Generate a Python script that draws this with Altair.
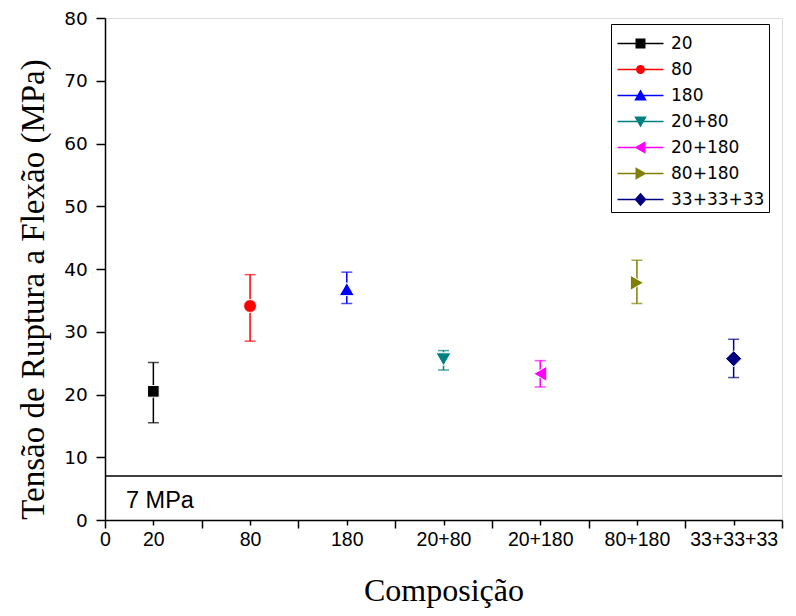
import json
import altair as alt
import pandas as pd

# ---- data ----
COMPOSICOES = ["20", "80", "180", "20+80", "20+180", "80+180", "33+33+33"]
X_POS = [0.5, 1.5, 2.5, 3.5, 4.5, 5.5, 6.5]
MEDIA = [20.5, 34.1, 36.8, 25.6, 23.3, 37.8, 25.7]
ERR_INF = [15.5, 28.5, 34.5, 23.9, 21.2, 34.5, 22.7]
ERR_SUP = [25.1, 39.1, 39.5, 27.0, 25.4, 41.4, 28.8]
LIMITE = [7]
LIMITE_TXT = ["7 MPa"]
X_TICKS = [i * 0.5 for i in range(15)]
Y_TICKS = list(range(0, 85, 5))

# ---- styles ----
COLORS = ["#000000", "#FF0000", "#0000FF", "#008080", "#FF00FF", "#808000", "#000080"]
MARKERS = ["square", "circle", "triangle-up", "triangle-down",
           "triangle-left", "triangle-right", "diamond"]
MARKER_SIZES = [135, 165, 230, 230, 230, 230, 260]
LINE = "M-4.6,-0.17H4.6V0.17H-4.6Z"
LEG_MARKS = [
    "M-1,-1H1V1H-1Z",
    "M-0.9,0A0.9,0.9,0,1,1,0.9,0A0.9,0.9,0,1,1,-0.9,0Z",
    "M0,-1.2L1.25,1H-1.25Z",
    "M0,1.2L-1.25,-1H1.25Z",
    "M-1.2,0L1,-1.25V1.25Z",
    "M1.2,0L-1,1.25V-1.25Z",
    "M0,-1.35L1.2,0L0,1.35L-1.2,0Z",
]
LEG_PATHS = [LINE + m for m in LEG_MARKS]

df = pd.DataFrame({
    "comp": COMPOSICOES,
    "x": X_POS,
    "media": MEDIA,
    "lo": ERR_INF,
    "hi": ERR_SUP,
})
df_lim = pd.DataFrame({"lim": LIMITE, "txt": LIMITE_TXT, "x0": [0]})

x_label_expr = (
    "datum.value === 0 ? '0' : (datum.value % 1 === 0.5 ? "
    + json.dumps(COMPOSICOES).replace('"', "'")
    + "[floor(datum.value)] : '')"
)

x_axis = alt.Axis(
    values=X_TICKS,
    tickSize={"condition": {"test": "datum.value % 1 === 0", "value": 8}, "value": 5},
    labelPadding={"condition": {"test": "datum.value % 1 === 0", "value": 2.9}, "value": 5.9},
    labelExpr=x_label_expr,
    labelOverlap=False,
    labelFlush=False,
    grid=False,
    labelFont="Liberation Sans",
    labelFontSize=19.5,
    labelColor="black",
    domainColor="black",
    domainWidth=1.5,
    tickColor="black",
    tickWidth=1.5,
    title="Composição",
    titleFont="Liberation Serif",
    titleFontSize=32,
    titleFontWeight="normal",
    titleColor="black",
    titleY=80,
    titleBaseline="alphabetic",
)

y_axis = alt.Axis(
    values=Y_TICKS,
    tickSize={"condition": {"test": "datum.value % 10 === 0", "value": 9}, "value": 5},
    labelExpr="datum.value % 10 === 0 ? datum.label : ''",
    labelPadding=8.7,
    labelOverlap=False,
    labelFlush=False,
    grid=False,
    labelFont="DejaVu Sans",
    labelFontSize=18.5,
    labelColor="black",
    domainColor="black",
    domainWidth=1.5,
    tickColor="black",
    tickWidth=1.5,
    title="Tensão de Ruptura a Flexão (MPa)",
    titleFont="Liberation Serif",
    titleFontSize=33,
    titleFontWeight="normal",
    titleColor="black",
    titleX=-62,
    titleY=271,
    titleBaseline="alphabetic",
)

xs = alt.Scale(domain=[0, 7], nice=False, zero=False)
ys = alt.Scale(domain=[0, 80], nice=False)
color_scale = alt.Scale(domain=COMPOSICOES, range=COLORS)

legend = alt.Legend(
    title=" ",
    titleFontSize=2,
    titlePadding=5,
    orient="none",
    legendX=506,
    legendY=6,
    symbolSize=100,
    symbolStrokeWidth=0,
    symbolOpacity=1,
    symbolOffset=17,
    labelOffset=22,
    labelFont="DejaVu Sans",
    labelFontSize=17,
    labelColor="black",
    padding=4,
    rowPadding=8,
    strokeColor="black",
    fillColor="white",
)

base = alt.Chart(df)
lim_base = alt.Chart(df_lim)

X = alt.X("x:Q", scale=xs, axis=x_axis)
C_nolegend = alt.Color("comp:N", scale=color_scale, legend=None)

# invisible layer that carries the legend (line + marker symbols)
legend_layer = base.mark_point(filled=True, opacity=0).encode(
    x=X,
    y=alt.Y("media:Q", scale=ys, axis=y_axis),
    color=alt.Color("comp:N", scale=color_scale, legend=legend),
    shape=alt.Shape("comp:N", scale=alt.Scale(domain=COMPOSICOES, range=LEG_PATHS), legend=legend),
)

rule7 = lim_base.mark_rule(color="black", strokeWidth=1.5).encode(
    y=alt.Y("lim:Q", scale=ys)
)
txt7 = lim_base.mark_text(
    align="left", baseline="alphabetic", dx=21, dy=32,
    font="Liberation Sans", fontSize=23.5, color="black"
).encode(
    x=alt.X("x0:Q", scale=xs),
    y=alt.Y("lim:Q", scale=ys),
    text="txt:N",
)

bars = base.mark_rule(strokeWidth=1.5).encode(
    x=X,
    y=alt.Y("lo:Q", scale=ys),
    y2="hi:Q",
    color=C_nolegend,
)
cap_lo = base.mark_tick(orient="horizontal", size=11, thickness=1.5).encode(
    x=X, y=alt.Y("lo:Q", scale=ys), color=C_nolegend
)
cap_hi = base.mark_tick(orient="horizontal", size=11, thickness=1.5).encode(
    x=X, y=alt.Y("hi:Q", scale=ys), color=C_nolegend
)

mk_expr = (json.dumps(MARKERS).replace('"', "'") + "[indexof("
           + json.dumps(COMPOSICOES).replace('"', "'") + ", datum.comp)]")
sz_expr = (json.dumps(MARKER_SIZES) + "[indexof("
           + json.dumps(COMPOSICOES).replace('"', "'") + ", datum.comp)]")

points = base.transform_calculate(mk=mk_expr, sz=sz_expr).mark_point(
    filled=True, opacity=1, stroke="white", strokeWidth=1
).encode(
    x=X,
    y=alt.Y("media:Q", scale=ys),
    color=C_nolegend,
    shape=alt.Shape("mk:N", scale=None),
    size=alt.Size("sz:Q", scale=None),
)

chart = alt.layer(legend_layer, rule7, txt7, bars, cap_lo, cap_hi, points).properties(
    width=677,
    height=502,
    autosize=alt.AutoSizeParams(type="none"),
    padding={"left": 97, "top": 10, "right": 4, "bottom": 88},
).configure_view(
    stroke="black", strokeWidth=1.5
).configure(background="white")

chart.save("out.html", embed_options={"renderer": "svg", "actions": False})
